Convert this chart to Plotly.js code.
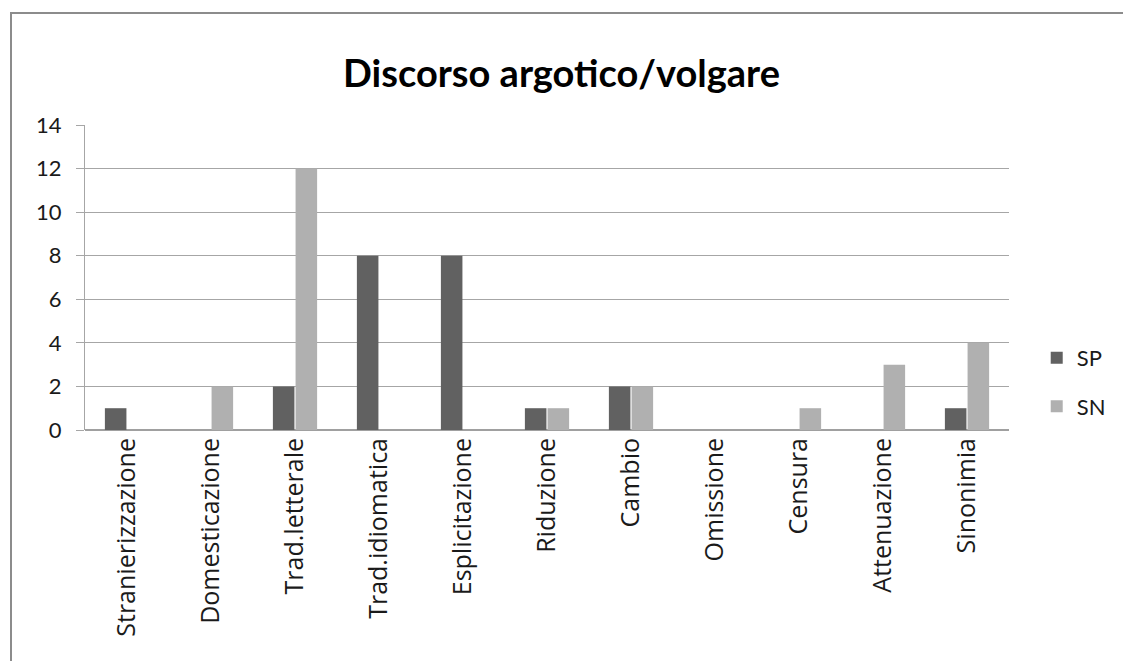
<!DOCTYPE html>
<html>
<head>
<meta charset="utf-8">
<script src="https://cdn.plot.ly/plotly-3.0.1.min.js"></script>
<style>
  html, body { margin: 0; padding: 0; background: #fff; }
  #wrap { position: relative; width: 1123px; height: 661px; overflow: hidden; }
  #chart { position: absolute; left: 0; top: 0; width: 1123px; height: 661px; }
  #frame { position: absolute; left: 10px; top: 12px; width: 1200px; height: 700px;
           border-left: 2px solid #8c8c8c; border-top: 2px solid #8c8c8c; pointer-events: none; }
</style>
</head>
<body>
<div id="wrap">
  <div id="chart"></div>
  <div id="frame"></div>
</div>
<script>
const categories = ["Stranierizzazione", "Domesticazione", "Trad.letterale", "Trad.idiomatica",
  "Esplicitazione", "Riduzione", "Cambio", "Omissione", "Censura", "Attenuazione", "Sinonimia"];
const spValues = [1, 0, 2, 8, 8, 1, 2, 0, 0, 0, 1];
const snValues = [0, 2, 12, 0, 0, 1, 2, 0, 1, 3, 4];
const yTicks = [0, 2, 4, 6, 8, 10, 12, 14];
const titleText = "Discorso argotico/volgare";

const FONT = "Lato, 'Open Sans', sans-serif";
const XFONT = "'Open Sans', Lato, sans-serif";

const traces = [
  { type: "bar", name: "SP", x: categories, y: spValues, legendgroup: "a",
    marker: { color: "#616161" }, hoverinfo: "x+y+name" },
  { type: "bar", name: "SN", x: categories, y: snValues, legendgroup: "b",
    marker: { color: "#b0b0b0" }, hoverinfo: "x+y+name" }
];

const layout = {
  width: 1123, height: 661,
  paper_bgcolor: "#ffffff", plot_bgcolor: "#ffffff",
  margin: { l: 85, r: 103, t: 125, b: 231, pad: 0 },
  font: { family: FONT, color: "#000000", size: 20 },
  title: { text: "<b>" + titleText + "</b>", font: { family: FONT, size: 38, color: "#000" },
           x: 0.5, xanchor: "center", y: 0.888, yanchor: "middle" },
  barmode: "group", bargap: 0.46, bargroupgap: 0.05,
  xaxis: {
    type: "category", tickangle: -90, showgrid: false, zeroline: false,
    showline: false, ticks: "", tickfont: { family: XFONT, size: 25, color: "#1a1a1a" },
    ticklabelstandoff: 2, fixedrange: true
  },
  yaxis: {
    range: [0, 14], tickvals: yTicks, ticktext: yTicks.map(String),
    showgrid: true, gridcolor: "#a6a6a6", gridwidth: 1,
    zeroline: true, zerolinecolor: "#a0a0a0", zerolinewidth: 1.5,
    showline: true, linecolor: "#a6a6a6", linewidth: 1,
    ticks: "outside", ticklen: 8, tickcolor: "#a6a6a6", tickwidth: 1,
    tickfont: { family: FONT, size: 22, color: "#1a1a1a" }, ticklabelstandoff: 10, fixedrange: true
  },
  showlegend: true,
  legend: { x: 1.03, xanchor: "left", y: 0.156, yanchor: "middle",
            font: { family: FONT, size: 22, color: "#1a1a1a" }, bgcolor: "rgba(0,0,0,0)",
            traceorder: "grouped", tracegroupgap: 17, itemwidth: 30 }
};

Plotly.newPlot("chart", traces, layout, { displayModeBar: false, staticPlot: true });
</script>
</body>
</html>
